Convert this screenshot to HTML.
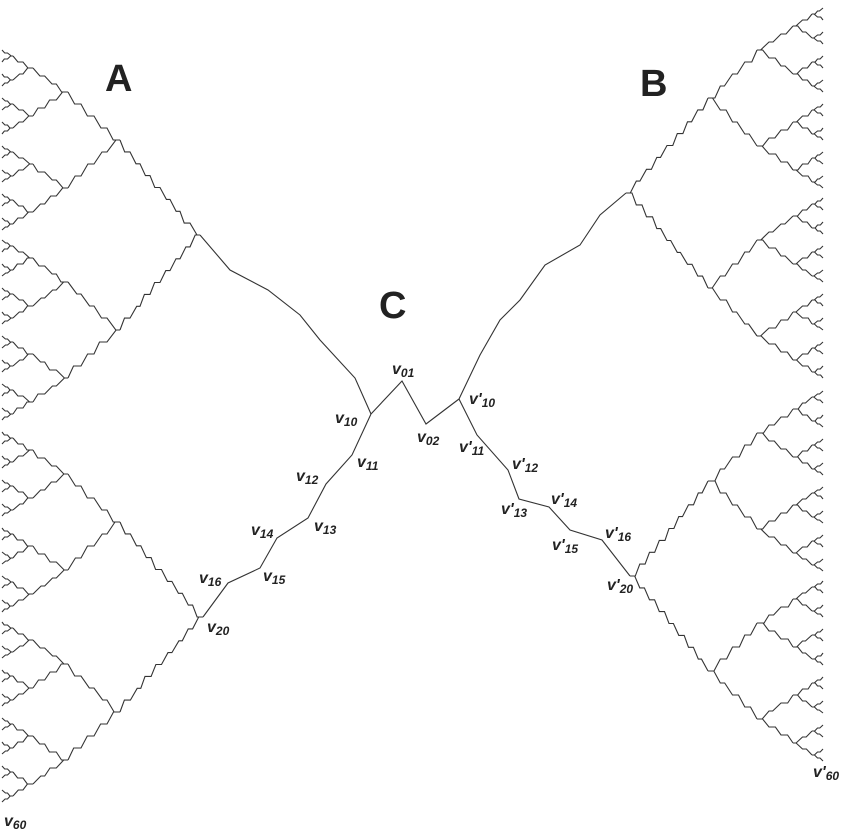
<!DOCTYPE html>
<html><head><meta charset="utf-8">
<style>
html,body{margin:0;padding:0;background:#fff;}
svg{display:block;}
.lb{font-family:"Liberation Sans",sans-serif;font-weight:bold;font-style:italic;font-size:16px;fill:#222;}
.sb{font-size:12px;}
.big{font-family:"Liberation Sans",sans-serif;font-weight:bold;font-size:38px;fill:#222;}
</style></head><body>
<svg id="s" width="845" height="832" viewBox="0 0 845 832" xmlns="http://www.w3.org/2000/svg">
<g id="g" fill="none" stroke="#333" stroke-width="1.1"></g>
<text class="big" x="105" y="91">A</text>
<text class="big" x="640" y="96">B</text>
<text class="big" x="379" y="318">C</text>
<text class="lb" x="392" y="374">v<tspan class="sb" dy="3">01</tspan></text>
<text class="lb" x="335" y="423">v<tspan class="sb" dy="3">10</tspan></text>
<text class="lb" x="417" y="442">v<tspan class="sb" dy="3">02</tspan></text>
<text class="lb" x="357" y="467">v<tspan class="sb" dy="3">11</tspan></text>
<text class="lb" x="296" y="481">v<tspan class="sb" dy="3">12</tspan></text>
<text class="lb" x="314" y="531">v<tspan class="sb" dy="3">13</tspan></text>
<text class="lb" x="251" y="535">v<tspan class="sb" dy="3">14</tspan></text>
<text class="lb" x="263" y="581">v<tspan class="sb" dy="3">15</tspan></text>
<text class="lb" x="199" y="583">v<tspan class="sb" dy="3">16</tspan></text>
<text class="lb" x="207" y="632">v<tspan class="sb" dy="3">20</tspan></text>
<text class="lb" x="4" y="826">v<tspan class="sb" dy="3">60</tspan></text>
<text class="lb" x="469" y="404">v'<tspan class="sb" dy="3">10</tspan></text>
<text class="lb" x="459" y="452">v'<tspan class="sb" dy="3">11</tspan></text>
<text class="lb" x="512" y="469">v'<tspan class="sb" dy="3">12</tspan></text>
<text class="lb" x="501" y="514">v'<tspan class="sb" dy="3">13</tspan></text>
<text class="lb" x="551" y="504">v'<tspan class="sb" dy="3">14</tspan></text>
<text class="lb" x="552" y="550">v'<tspan class="sb" dy="3">15</tspan></text>
<text class="lb" x="605" y="538">v'<tspan class="sb" dy="3">16</tspan></text>
<text class="lb" x="607" y="590">v'<tspan class="sb" dy="3">20</tspan></text>
<text class="lb" x="813" y="777">v'<tspan class="sb" dy="3">60</tspan></text>
</svg>
<script>
var g=document.getElementById('g');
var seed=7;function rnd(){seed=(seed*16807)%2147483647;return seed/2147483647;}
function line(pts){var p=document.createElementNS('http://www.w3.org/2000/svg','polyline');
p.setAttribute('points',pts.map(function(a){return a[0].toFixed(1)+','+a[1].toFixed(1)}).join(' '));g.appendChild(p);}
function stair(x1,y1,x2,y2){
 var dx=x2-x1,dy=y2-y1,len=Math.hypot(dx,dy);
 var n=Math.max(2,Math.round(len/16));
 var pts=[[x1,y1]];
 for(var i=0;i<n;i++){
   var xa=x1+dx*(i+0.45+(rnd()-0.5)*0.3)/n, xb=x1+dx*(i+1)/n;
   var yb=y1+dy*(i+1)/n;
   pts.push([xa,y1+dy*i/n]);pts.push([xb,yb]);
 }
 line(pts);
}
function sub(x,y,lvl,X,S){
 if(lvl>=X.length)return;
 var nx=X[lvl],o=S[lvl];
 [[nx,y-o],[nx,y+o]].forEach(function(c){stair(x,y,c[0],c[1]);sub(c[0],c[1],lvl+1,X,S);});
}
var S=[0,0,95,48,24,12,6];
var XL=[0,0,120,68,33,13,2];
line([[371,414],[402,381],[426,424],[459,399]]);
line([[371,414],[352,455],[326,484],[308,518],[277,538],[260,568],[228,583],[203,617]]);
line([[371,414],[355,378],[320,340],[300,315],[268,290],[230,270],[200,235]]);
sub(200,235,2,XL,S);sub(203,617,2,XL,S);
var XR=[0,0,708,757,793,812,823];
line([[459,399],[477,435],[508,470],[519,499],[549,507],[570,530],[602,540],[630,576]]);
line([[459,399],[480,355],[500,320],[520,300],[545,265],[580,245],[600,215],[626,193]]);
sub(626,193,2,XR,S);sub(630,576,2,XR,S);
</script>
</body></html>
